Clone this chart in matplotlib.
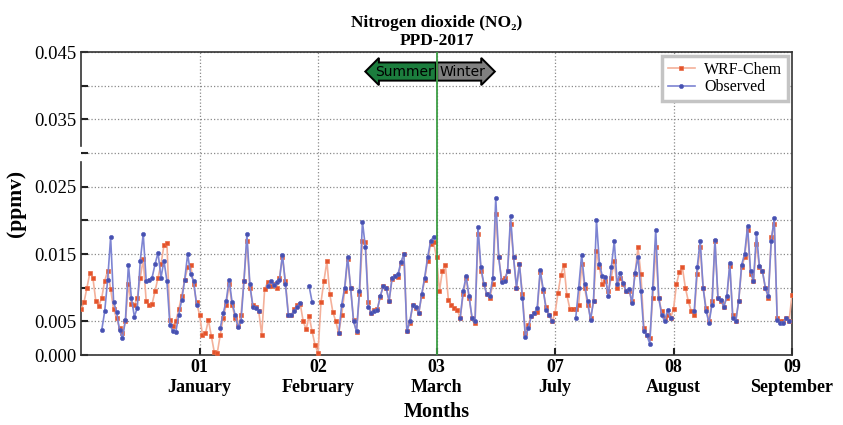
import numpy as np
import matplotlib
matplotlib.use('Agg')
import matplotlib.pyplot as plt
from matplotlib.transforms import blended_transform_factory

# values in ppb (divided by 1000 to get ppmv), one per step along the x axis
wrf_ppb = [
    6.8, 7.8, 10.0, 12.2, 11.5, 8.0, 7.3, 8.5, 11.0, 12.5,
    9.8, 6.8, 5.5, 4.0, 3.3, 5.0, 10.5, 7.6, 7.4, 8.5,
    11.5, 14.2, 8.0, 7.4, 7.6, 9.5, 11.5, 13.5, 16.3, 16.6,
    5.2, 4.3, 5.0, 6.8, 8.8, 11.2, 13.0, 13.4, 10.5, 7.8,
    6.0, 3.0, 3.2, 5.2, 2.8, 0.4, 0.3, 3.0, 5.5, 7.5,
    10.5, 7.5, 5.5, 4.3, 6.0, 11.0, 17.0, 10.0, 7.5, 7.2,
    6.5, 3.0, 9.8, 10.8, 10.2, 10.5, 10.0, 11.5, 14.5, 11.0,
    6.0, 6.0, 6.8, 7.5, 7.6, 5.0, 3.8, 5.8, 3.5, 1.5,
    0.3, 7.8, 11.0, 13.9, 9.0, 6.4, 5.0, 3.2, 6.0, 9.5,
    14.3, 10.0, 5.2, 3.4, 9.0, 17.0, 16.8, 7.8, 6.2, 6.7,
    6.8, 8.6, 10.2, 10.0, 8.0, 11.3, 11.8, 11.6, 13.6, 15.0,
    3.6, 4.8, 7.4, 7.0, 6.2, 8.8, 11.2, 14.0, 16.5, 16.8,
    14.5, 9.5, 12.5, 13.4, 8.2, 7.5, 7.0, 6.7, 5.5, 9.0,
    11.5, 8.5, 5.5, 4.8, 18.0, 12.5, 10.5, 9.0, 8.5, 10.5,
    21.0, 14.5, 11.2, 11.4, 12.5, 19.5, 14.5, 10.0, 13.5, 9.0,
    3.2, 4.5, 5.8, 6.2, 6.4, 12.4, 9.5, 7.2, 6.0, 5.0,
    6.2, 9.2, 11.9, 13.4, 8.9, 6.9, 6.9, 6.9, 7.5, 13.5,
    10.0, 7.5, 5.5, 8.0, 15.5, 13.0, 10.5, 11.0, 9.5, 11.5,
    14.0, 10.0, 11.5, 10.5, 9.5, 9.5, 8.0, 12.0, 16.0, 12.0,
    4.0, 3.0, 2.5, 8.5, 16.0, 8.5, 6.5, 5.5, 6.0, 5.5,
    6.8, 10.5, 12.4, 13.0, 10.0, 8.0, 6.5, 6.0, 12.0, 16.0,
    10.0, 7.0, 5.0, 8.0, 17.0, 8.5, 8.0, 7.2, 8.5, 13.2,
    6.0, 5.0, 8.0, 13.0, 14.5, 18.5, 12.0, 11.0, 16.5, 13.0,
    12.5, 10.0, 8.5, 17.5, 19.5, 5.5, 5.0, 5.0, 5.5, 5.0, 8.9,
]

N = None
obs_ppb = (
    [N] * 7 +
    [3.7, 6.5, 11.2, 17.5, 7.9, 6.4, 3.7, 2.5, 5.2, 13.4, 8.5, 5.7, 7.0, 14.0,
     18.0, 11.0, 11.2, 11.5, 13.5, 15.2, 11.5, 14.0, 11.0, 4.5, 3.5, 3.4, 6.0,
     8.2, 11.2, 15.0, 12.0, 11.0, 7.5] +
    [N] * 7 +
    [4.0, 6.2, 8.0, 11.2, 7.8, 6.0, 4.2, 5.0, 11.0, 17.9, 10.5, 7.2, 7.0, 6.5] +
    [N, N] +
    [10.2, 11.0, 10.4, 10.8, 11.2, 14.9, 10.5, 5.9, 6.0, 6.5, 7.2, 7.7] +
    [N, N, 10.2, 7.9, N] +
    [N] * 7 +
    [3.2, 7.5, 10.0, 14.6, 10.0, 5.0, 3.5, 9.5, 19.8, 16.0, 7.2, 6.2, 6.5, 6.7,
     8.7, 10.2, 10.0, 8.0, 11.5, 11.8, 12.0, 13.8, 15.0, 3.5, 5.0, 7.5, 7.2,
     6.2, 9.0, 11.5, 14.5, 16.9, 17.6] +
    [N] * 8 +
    [5.5, 9.5, 11.7, 8.7, 5.5, 5.0, 19.0, 13.0, 10.5, 9.0, 8.8, 11.5, 23.3,
     14.5, 10.8, 11.0, 12.5, 20.6, 14.5, 10.0, 13.5, 8.5, 2.7, 4.0, 5.8, 6.2,
     7.0, 12.6, 9.8, 6.7, 6.0, 5.0] +
    [N] * 7 +
    [5.5, 10.0, 14.9, 10.5, 8.0, 5.2, 8.0, 20.0, 13.5, 11.7, 11.6, 8.7, 13.0,
     16.9, 10.6, 12.2, 10.7, 9.5, 9.8, 7.7, 12.2, 14.6, 9.5, 3.5, 2.9, 1.7,
     10.0, 18.6, 8.5, 6.0, 5.0, 6.7, 5.5] +
    [N] * 7 +
    [6.5, 13.0, 17.0, 10.0, 6.5, 4.8, 7.5, 17.1, 8.5, 8.2, 7.2, 8.7, 13.6, 5.5,
     5.0, 8.0, 13.4, 15.0, 19.1, 12.5, 11.0, 18.1, 13.2, 12.5, 10.0, 8.7, 17.0,
     20.3, 5.2, 4.8, 4.8, 5.5, 5.0] +
    [N]
)

month_ticks = [40, 80, 120, 160, 200, 240]
month_labels = ['01\nJanuary', '02\nFebruary', '03\nMarch',
                '07\nJuly', '08\nAugust', '09\nSeptember']
season_split = 120

wrf = np.array(wrf_ppb, dtype=float) / 1000
obs = np.array(obs_ppb, dtype=float) / 1000
x = np.arange(len(wrf))

serif = ['Liberation Serif', 'DejaVu Serif']
plt.rcParams['font.family'] = serif

fig = plt.figure(figsize=(8.43, 4.25), dpi=100)
ax = fig.add_axes([0.0961, 0.1647, 0.8434, 0.7129])

ax.plot(x, wrf, color='#f4b09a', lw=1.2, marker='s', ms=3.4,
        mfc='#e4532b', mec='#e86a45', mew=0.5, label='WRF-Chem', zorder=3)
ax.plot(x, obs, color='#7d84d2', lw=1.2, marker='o', ms=3.0,
        mfc='#4650b0', mec='#5a63bd', mew=0.5, label='Observed', zorder=4)

ax.axvline(season_split, color='#3d9e45', lw=1.3, zorder=6)

ax.set_xlim(0, 240)
ax.set_ylim(0, 0.045)
yt = np.arange(0, 0.0451, 0.005)
ax.set_yticks(yt)
ax.set_yticklabels(['0.000', '0.005', '', '0.015', '', '0.025', '',
                    '0.035', '', '0.045'], fontsize=13.5)
ax.set_xticks(month_ticks)
ax.set_xticklabels(month_labels, fontsize=13, fontweight='bold',
                   linespacing=1.25)
ax.tick_params(direction='in', length=5, width=1.5, color='#222222')
ax.tick_params(axis='x', pad=3)
ax.grid(True, ls=':', color='#8a8a8a', lw=0.9)

for s in ['top', 'right', 'bottom', 'left']:
    ax.spines[s].set_color('#333333')
    ax.spines[s].set_linewidth(1.2)
# broken y axis
ax.spines['left'].set_bounds(0, 0.0286)
trans = blended_transform_factory(ax.transAxes, ax.transData)
ax.plot([0, 0], [0.0310, 0.045], transform=trans, color='#333333',
        lw=1.2, clip_on=False, zorder=7)

ax.set_xlabel('Months', fontsize=14.5, fontweight='bold', labelpad=4)
ax.set_ylabel('(ppmv)', fontsize=15.5, fontweight='bold', labelpad=6)
ax.set_title('Nitrogen dioxide (NO₂)\nPPD-2017', fontsize=12.5,
             fontweight='bold', pad=5, linespacing=1.15)

ax.annotate('Summer', xy=(season_split, 0.0421), xytext=(-2, 0),
            textcoords='offset points', ha='right', va='center',
            fontsize=10, family='DejaVu Sans', zorder=5,
            bbox=dict(boxstyle='larrow,pad=0.15', fc='#1b7d3d', ec='black', lw=1.4))
ax.annotate('Winter', xy=(season_split, 0.0421), xytext=(2, 0),
            textcoords='offset points', ha='left', va='center',
            fontsize=10, family='DejaVu Sans', zorder=5,
            bbox=dict(boxstyle='rarrow,pad=0.15', fc='#808080', ec='black', lw=1.4))

leg = ax.legend(loc='upper right', fontsize=11.5, fancybox=False,
                borderaxespad=0.25, handlelength=1.7, handletextpad=0.6,
                borderpad=0.35, labelspacing=0.1, framealpha=1)
leg.get_frame().set_edgecolor('#c4c4c4')
leg.get_frame().set_linewidth(2.5)

fig.savefig('out.png', dpi=100)
